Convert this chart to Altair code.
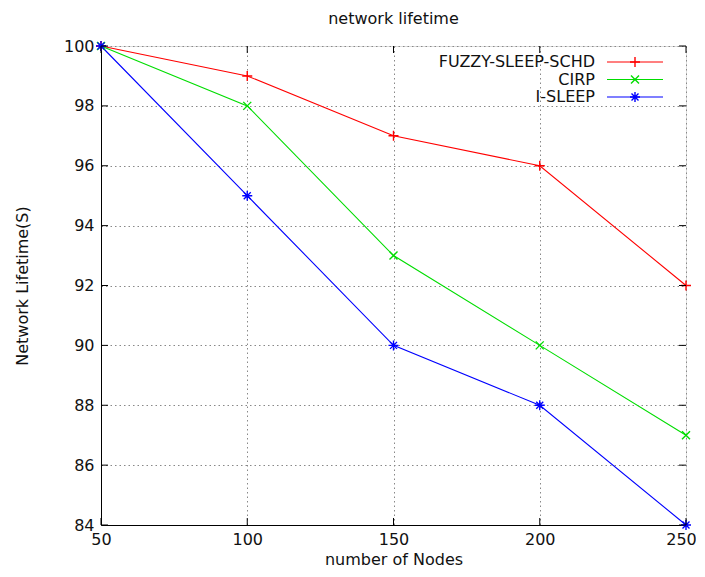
import altair as alt
import pandas as pd

nodes = [50, 100, 150, 200, 250]
fuzzy = [100, 99, 97, 96, 92]
cirp = [100, 98, 93, 90, 87]
isleep = [100, 95, 90, 88, 84]
series_names = ["FUZZY-SLEEP-SCHD", "CIRP", "I-SLEEP"]
series_colors = ["#ff0000", "#00dd00", "#0000ff"]
x_ticks = [50, 100, 150, 200, 250]
y_ticks = [84, 86, 88, 90, 92, 94, 96, 98, 100]

W, H = 585, 479
FONT = "DejaVu Sans"
FS = 16

shapes = {
    "FUZZY-SLEEP-SCHD": "M-1,0L1,0M0,-1L0,1",
    "CIRP": "M-0.8,-0.8L0.8,0.8M-0.8,0.8L0.8,-0.8",
    "I-SLEEP": "M-1,0L1,0M0,-1L0,1M-0.7,-0.7L0.7,0.7M-0.7,0.7L0.7,-0.7",
}

rows = []
for name, vals in zip(series_names, [fuzzy, cirp, isleep]):
    for n, v in zip(nodes, vals):
        rows.append({"nodes": n, "value": v, "series": name})
df = pd.DataFrame(rows)

xs = alt.Scale(domain=[50, 250], nice=False)
ys = alt.Scale(domain=[84, 100], nice=False, zero=False)

x_axis = alt.Axis(values=x_ticks, title="number of Nodes", grid=True, gridDash=[1.5, 3],
                  gridColor="#888888", labelFont=FONT, labelFontSize=FS, titleFont=FONT,
                  titleFontSize=FS, titleFontWeight="normal", labelColor="#111", titleColor="#111",
                  domainColor="#000", tickSize=0, labelPadding=6, titlePadding=4,
                  labelFlush=False,
                  labelOffset=alt.ExprRef("datum.value == 250 ? -5 : 0"))
y_axis = alt.Axis(values=y_ticks, title="Network Lifetime(S)", grid=True, gridDash=[1.5, 3],
                  gridColor="#888888", labelFont=FONT, labelFontSize=FS, titleFont=FONT,
                  titleFontSize=FS, titleFontWeight="normal", labelColor="#111", titleColor="#111",
                  domainColor="#000", tickSize=0, labelPadding=7, titlePadding=33,
                  labelFlush=False)

base = alt.Chart(df)
color = alt.Color("series:N", scale=alt.Scale(domain=series_names, range=series_colors), legend=None)

lines = base.mark_line(strokeWidth=1.1, clip=False).encode(
    x=alt.X("nodes:Q", scale=xs, axis=x_axis),
    y=alt.Y("value:Q", scale=ys, axis=y_axis),
    color=color,
    detail="series:N",
)

MS = 100
layers = [lines]
for name, col in zip(series_names, series_colors):
    layers.append(
        alt.Chart(df[df.series == name]).mark_point(shape=shapes[name], filled=False, size=MS,
                                                    strokeWidth=1.4, color=col, opacity=1).encode(
            x=alt.X("nodes:Q", scale=xs), y=alt.Y("value:Q", scale=ys))
    )

# inward ticks
xt = pd.DataFrame({"t": x_ticks})
yt = pd.DataFrame({"t": y_ticks})
layers.append(alt.Chart(xt).mark_rule(color="#000").encode(x=alt.X("t:Q", scale=xs), y=alt.value(H - 7), y2=alt.value(H)))
layers.append(alt.Chart(xt).mark_rule(color="#000").encode(x=alt.X("t:Q", scale=xs), y=alt.value(0), y2=alt.value(7)))
layers.append(alt.Chart(yt).mark_rule(color="#000").encode(y=alt.Y("t:Q", scale=ys), x=alt.value(0), x2=alt.value(7)))
layers.append(alt.Chart(yt).mark_rule(color="#000").encode(y=alt.Y("t:Q", scale=ys), x=alt.value(W - 7), x2=alt.value(W)))

# legend (gnuplot style, inside top-right)
for i, (name, col) in enumerate(zip(series_names, series_colors)):
    yy = 16 + i * 17.5
    ld = pd.DataFrame({"name": [name]})
    layers.append(alt.Chart(ld).mark_text(align="right", baseline="middle", font=FONT, fontSize=FS,
                                          color="#111").encode(text="name:N", x=alt.value(494), y=alt.value(yy)))
    layers.append(alt.Chart(ld).mark_rule(color=col, strokeWidth=1.1).encode(
        x=alt.value(506), x2=alt.value(562), y=alt.value(yy)))
    layers.append(alt.Chart(ld).mark_point(shape=shapes[name], filled=False, size=MS, strokeWidth=1.4,
                                           color=col, opacity=1).encode(x=alt.value(534), y=alt.value(yy)))

chart = alt.layer(*layers).properties(
    width=W, height=H,
    title=alt.TitleParams("network lifetime", font=FONT, fontSize=FS, fontWeight="normal",
                          color="#111", anchor="middle", offset=11),
    autosize=alt.AutoSizeParams(type="none"),
    padding={"left": 93, "top": 38, "right": 10, "bottom": 44},
).configure_view(stroke="#000", strokeWidth=1).configure(background="white")

chart.save("out.html", embed_options={"renderer": "svg", "actions": False})
